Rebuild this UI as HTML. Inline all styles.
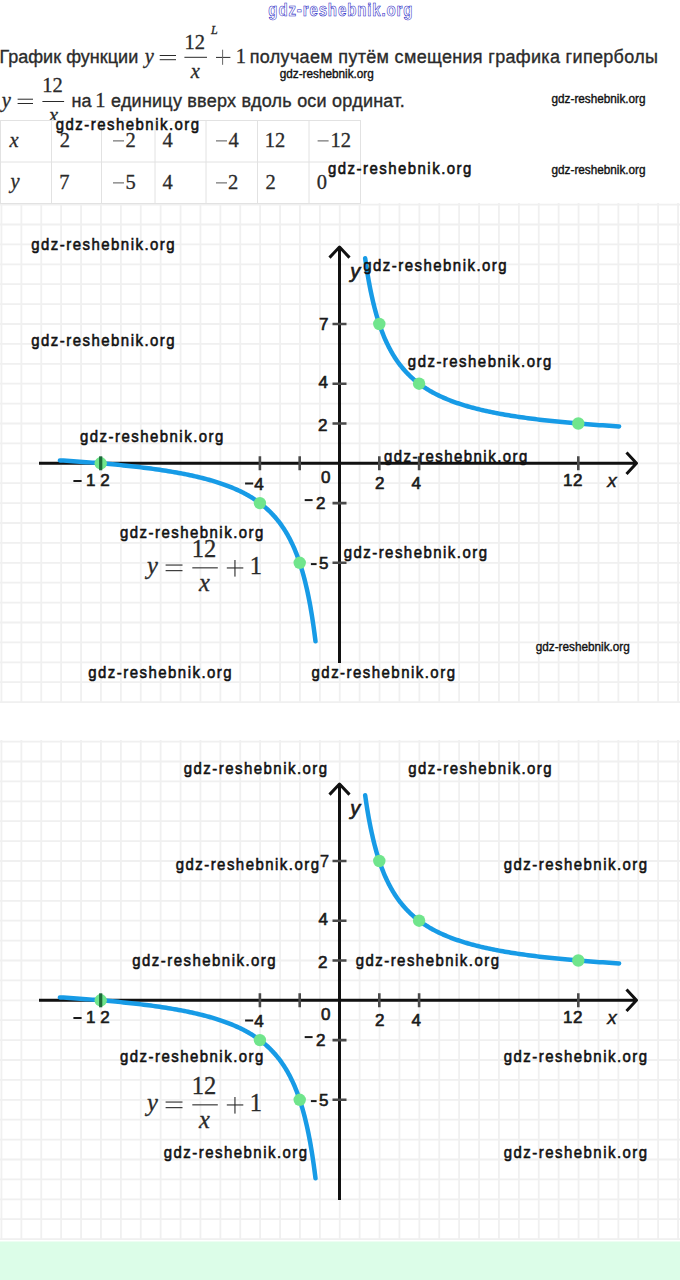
<!DOCTYPE html>
<html><head><meta charset="utf-8">
<style>
html,body{margin:0;padding:0;background:#fff;}
body{width:680px;height:1280px;overflow:hidden;}
svg{display:block;}
.fs{font-family:"Liberation Sans",sans-serif;}
.fsb{font-family:"Liberation Sans",sans-serif;font-weight:bold;}
.fsi{font-family:"Liberation Sans",sans-serif;font-style:italic;}
.fsbi{font-family:"Liberation Sans",sans-serif;font-weight:bold;font-style:italic;}
.fr{font-family:"Liberation Serif",serif;stroke:#2a2a2a;stroke-width:0.3px;}
.fri{font-family:"Liberation Serif",serif;font-style:italic;stroke:#2a2a2a;stroke-width:0.3px;}
</style></head><body>
<svg width="680" height="1280" viewBox="0 0 680 1280">
<rect x="0" y="0" width="680" height="1280" fill="#fff"/>
<path d="M1.45 203V703M21.35 203V703M41.25 203V703M61.15 203V703M81.05 203V703M100.95 203V703M120.85 203V703M140.75 203V703M160.65 203V703M180.55 203V703M200.45 203V703M220.35 203V703M240.25 203V703M260.15 203V703M280.05 203V703M299.95 203V703M319.85 203V703M339.75 203V703M359.65 203V703M379.55 203V703M399.45 203V703M419.35 203V703M439.25 203V703M459.15 203V703M479.05 203V703M498.95 203V703M518.85 203V703M538.75 203V703M558.65 203V703M578.55 203V703M598.45 203V703M618.35 203V703M638.25 203V703M658.15 203V703M678.05 203V703M0 204.60H680M0 224.50H680M0 244.40H680M0 264.30H680M0 284.20H680M0 304.10H680M0 324.00H680M0 343.90H680M0 363.80H680M0 383.70H680M0 403.60H680M0 423.50H680M0 443.40H680M0 463.30H680M0 483.20H680M0 503.10H680M0 523.00H680M0 542.90H680M0 562.80H680M0 582.70H680M0 602.60H680M0 622.50H680M0 642.40H680M0 662.30H680M0 682.20H680M0 702.10H680" stroke="#f0f0f0" stroke-width="1.8" fill="none"/>
<path d="M39 463.3H636.5M626.5 452.6L636.5 463.3L626.5 474.0" stroke="#111" stroke-width="3" fill="none" stroke-linejoin="round"/>
<path d="M339.5 663V247M329.5 257.6L339.5 247L349.5 257.6" stroke="#111" stroke-width="3" fill="none" stroke-linejoin="round"/>
<path d="M259.90 456.3V470.3M299.70 456.3V470.3M379.30 456.3V470.3M419.10 456.3V470.3M578.30 456.3V470.3M332.5 324.00H346.5M332.5 383.70H346.5M332.5 423.50H346.5M332.5 503.10H346.5M332.5 562.80H346.5" stroke="#4a4a4a" stroke-width="2.6" fill="none"/>
<path d="M365.17 258.28L365.48 260.48L365.79 262.65L366.11 264.80L366.43 266.92L366.75 269.01L367.08 271.08L367.41 273.13L367.74 275.15L368.08 277.14L368.43 279.12L368.77 281.07L369.13 282.99L369.48 284.90L369.84 286.78L370.21 288.64L370.57 290.48L370.95 292.29L371.33 294.08L371.71 295.86L372.10 297.61L372.49 299.34L372.88 301.05L373.28 302.74L373.69 304.41L374.10 306.06L374.52 307.69L374.94 309.30L375.36 310.89L375.79 312.46L376.23 314.02L376.67 315.55L377.12 317.07L377.57 318.57L378.03 320.05L378.49 321.51L378.96 322.96L379.43 324.39L379.91 325.80L380.40 327.20L380.89 328.58L381.38 329.94L381.89 331.29L382.40 332.62L382.91 333.93L383.43 335.23L383.96 336.52L384.49 337.78L385.03 339.04L385.58 340.28L386.14 341.50L386.70 342.71L387.26 343.90L387.84 345.09L388.42 346.25L389.00 347.41L389.60 348.54L390.20 349.67L390.81 350.78L391.43 351.88L392.05 352.97L392.68 354.04L393.32 355.10L393.97 356.15L394.62 357.19L395.28 358.21L395.95 359.22L396.63 360.22L397.32 361.21L398.01 362.18L398.71 363.15L399.43 364.10L400.14 365.04L400.87 365.97L401.61 366.89L402.36 367.80L403.11 368.69L403.88 369.58L404.65 370.46L405.43 371.32L406.22 372.18L407.02 373.02L407.84 373.86L408.66 374.68L409.49 375.50L410.33 376.31L411.18 377.10L412.04 377.89L412.91 378.67L413.79 379.44L414.69 380.19L415.59 380.94L416.50 381.69L417.43 382.42L418.36 383.14L419.31 383.86L420.27 384.56L421.24 385.26L422.22 385.95L423.21 386.63L424.22 387.31L425.24 387.97L426.27 388.63L427.31 389.28L428.36 389.92L429.43 390.56L430.51 391.19L431.61 391.81L432.71 392.42L433.83 393.02L434.96 393.62L436.11 394.21L437.27 394.80L438.45 395.37L439.63 395.94L440.84 396.51L442.05 397.06L443.29 397.61L444.53 398.16L445.79 398.69L447.07 399.22L448.36 399.75L449.67 400.27L450.99 400.78L452.33 401.28L453.69 401.78L455.06 402.28L456.45 402.77L457.85 403.25L459.27 403.72L460.71 404.20L462.17 404.66L463.64 405.12L465.13 405.57L466.64 406.02L468.17 406.47L469.72 406.91L471.28 407.34L472.86 407.77L474.46 408.19L476.09 408.61L477.73 409.02L479.39 409.43L481.07 409.83L482.77 410.23L484.49 410.62L486.23 411.01L487.99 411.40L489.78 411.78L491.58 412.15L493.41 412.52L495.26 412.89L497.13 413.25L499.02 413.61L500.94 413.96L502.87 414.31L504.84 414.66L506.82 415.00L508.83 415.34L510.87 415.67L512.93 416.00L515.01 416.32L517.12 416.65L519.25 416.96L521.41 417.28L523.59 417.59L525.81 417.89L528.04 418.20L530.31 418.49L532.60 418.79L534.92 419.08L537.27 419.37L539.64 419.66L542.05 419.94L544.48 420.22L546.94 420.49L549.43 420.76L551.95 421.03L554.51 421.30L557.09 421.56L559.70 421.82L562.35 422.08L565.02 422.33L567.73 422.58L570.47 422.83L573.25 423.07L576.06 423.31L578.90 423.55L581.77 423.79L584.68 424.02L587.63 424.25L590.61 424.48L593.62 424.70L596.68 424.92L599.77 425.14L602.89 425.36L606.06 425.57L609.26 425.78L612.50 425.99L615.78 426.20L619.10 426.40M59.90 460.40L63.32 460.61L66.68 460.82L70.01 461.03L73.30 461.25L76.55 461.47L79.75 461.70L82.92 461.92L86.05 462.15L89.14 462.38L92.20 462.62L95.21 462.85L98.19 463.09L101.14 463.34L104.04 463.58L106.91 463.83L109.75 464.08L112.55 464.34L115.32 464.60L118.06 464.86L120.76 465.12L123.43 465.39L126.06 465.66L128.66 465.94L131.24 466.22L133.78 466.50L136.29 466.78L138.76 467.07L141.21 467.37L143.63 467.66L146.02 467.96L148.38 468.26L150.71 468.57L153.01 468.88L155.29 469.20L157.54 469.52L159.76 469.84L161.95 470.16L164.11 470.50L166.25 470.83L168.37 471.17L170.45 471.51L172.52 471.86L174.55 472.21L176.56 472.57L178.55 472.93L180.51 473.29L182.45 473.66L184.37 474.03L186.26 474.41L188.13 474.79L189.98 475.18L191.80 475.57L193.60 475.97L195.38 476.37L197.14 476.78L198.88 477.19L200.59 477.61L202.29 478.03L203.96 478.46L205.61 478.89L207.25 479.33L208.86 479.78L210.45 480.22L212.03 480.68L213.58 481.14L215.12 481.61L216.63 482.08L218.13 482.56L219.61 483.04L221.08 483.53L222.52 484.02L223.95 484.53L225.36 485.03L226.75 485.55L228.12 486.07L229.48 486.59L230.82 487.13L232.15 487.67L233.46 488.21L234.75 488.77L236.03 489.33L237.29 489.89L238.54 490.47L239.77 491.05L240.99 491.64L242.19 492.23L243.38 492.84L244.55 493.45L245.71 494.07L246.85 494.69L247.98 495.32L249.10 495.97L250.20 496.61L251.29 497.27L252.36 497.94L253.43 498.61L254.48 499.29L255.51 499.98L256.54 500.68L257.55 501.39L258.55 502.10L259.54 502.83L260.51 503.56L261.48 504.31L262.43 505.06L263.37 505.82L264.30 506.59L265.21 507.37L266.12 508.16L267.02 508.96L267.90 509.77L268.77 510.59L269.64 511.42L270.49 512.26L271.33 513.11L272.16 513.97L272.98 514.84L273.79 515.72L274.60 516.62L275.39 517.52L276.17 518.44L276.94 519.36L277.70 520.30L278.46 521.25L279.20 522.21L279.94 523.18L280.66 524.17L281.38 525.17L282.09 526.18L282.79 527.20L283.48 528.23L284.17 529.28L284.84 530.34L285.51 531.42L286.17 532.50L286.82 533.60L287.46 534.72L288.09 535.84L288.72 536.99L289.34 538.14L289.95 539.31L290.56 540.49L291.15 541.69L291.74 542.91L292.33 544.14L292.90 545.38L293.47 546.64L294.03 547.91L294.59 549.20L295.13 550.51L295.67 551.83L296.21 553.17L296.74 554.53L297.26 555.90L297.77 557.29L298.28 558.70L298.79 560.12L299.28 561.56L299.77 563.02L300.26 564.50L300.74 565.99L301.21 567.51L301.68 569.04L302.14 570.59L302.59 572.16L303.04 573.75L303.49 575.36L303.93 576.99L304.36 578.64L304.79 580.31L305.21 582.00L305.63 583.71L306.04 585.44L306.45 587.20L306.86 588.97L307.25 590.77L307.65 592.59L308.04 594.43L308.42 596.30L308.80 598.19L309.17 600.10L309.54 602.03L309.91 603.99L310.27 605.97L310.63 607.98L310.98 610.01L311.33 612.07L311.67 614.15L312.01 616.26L312.34 618.40L312.68 620.56L313.00 622.74L313.33 624.96L313.65 627.20L313.96 629.47L314.27 631.77L314.58 634.09L314.88 636.45L315.18 638.83L315.48 641.25" stroke="#179be6" stroke-width="4.5" fill="none" stroke-linecap="round"/>
<circle cx="379.30" cy="324.00" r="6.2" fill="#70e58c"/>
<circle cx="419.10" cy="383.70" r="6.2" fill="#70e58c"/>
<circle cx="578.30" cy="423.50" r="6.2" fill="#70e58c"/>
<circle cx="299.70" cy="562.80" r="6.2" fill="#70e58c"/>
<circle cx="259.90" cy="503.10" r="6.2" fill="#70e58c"/>
<circle cx="100.70" cy="463.30" r="6.2" fill="#70e58c"/>
<path d="M100.70 456.3V470.3" stroke="#1d6a3a" stroke-width="3.2"/>
<text class="fs" x="319.02" y="329.70" font-size="17" fill="#1a1a1a" stroke="#1a1a1a" stroke-width="0.65">7</text>
<text class="fs" x="318.62" y="388.20" font-size="17" fill="#1a1a1a" stroke="#1a1a1a" stroke-width="0.65">4</text>
<text class="fs" x="318.12" y="430.90" font-size="17" fill="#1a1a1a" stroke="#1a1a1a" stroke-width="0.65">2</text>
<rect x="304.70" y="499.10" width="7.90" height="2.00" fill="#1a1a1a"/>
<text class="fs" x="316.12" y="509.00" font-size="17" fill="#1a1a1a" stroke="#1a1a1a" stroke-width="0.65">2</text>
<rect x="310.90" y="563.10" width="5.70" height="2.00" fill="#1a1a1a"/>
<text class="fs" x="318.95" y="568.50" font-size="17" fill="#1a1a1a" stroke="#1a1a1a" stroke-width="0.65">5</text>
<text class="fs" x="320.98" y="483.20" font-size="17" fill="#1a1a1a" stroke="#1a1a1a" stroke-width="0.65">0</text>
<rect x="73.40" y="480.00" width="8.20" height="2.00" fill="#1a1a1a"/>
<text class="fs" x="86.05" y="486.20" font-size="17" fill="#1a1a1a" stroke="#1a1a1a" stroke-width="0.65">1</text>
<text class="fs" x="100.33" y="486.20" font-size="17" fill="#1a1a1a" stroke="#1a1a1a" stroke-width="0.65">2</text>
<rect x="245.10" y="482.50" width="8.10" height="2.00" fill="#1a1a1a"/>
<text class="fs" x="254.32" y="489.90" font-size="17" fill="#1a1a1a" stroke="#1a1a1a" stroke-width="0.65">4</text>
<text class="fs" x="374.93" y="488.80" font-size="17" fill="#1a1a1a" stroke="#1a1a1a" stroke-width="0.65">2</text>
<text class="fs" x="411.43" y="488.80" font-size="17" fill="#1a1a1a" stroke="#1a1a1a" stroke-width="0.65">4</text>
<text class="fs" x="562.95" y="486.00" font-size="17" fill="#1a1a1a" stroke="#1a1a1a" stroke-width="0.65">1</text>
<text class="fs" x="573.12" y="486.00" font-size="17" fill="#1a1a1a" stroke="#1a1a1a" stroke-width="0.65">2</text>
<text class="fsi" x="607.35" y="487.40" font-size="19" fill="#1a1a1a" stroke="#1a1a1a" stroke-width="0.4">x</text>
<text class="fsi" x="350.23" y="277.50" font-size="20" fill="#1a1a1a" stroke="#1a1a1a" stroke-width="0.7">y</text>
<text class="fri" x="147.00" y="573.60" font-size="24.5" fill="#2a2a2a">y</text>
<rect x="165.60" y="564.50" width="16.90" height="1.10" fill="#2a2a2a"/>
<rect x="165.60" y="570.10" width="16.90" height="1.10" fill="#2a2a2a"/>
<rect x="192.30" y="567.30" width="25.50" height="1.10" fill="#2a2a2a"/>
<text class="fr" x="191.68" y="557.30" font-size="24.5" fill="#2a2a2a">12</text>
<text class="fri" x="199.05" y="591.30" font-size="24.5" fill="#2a2a2a">x</text>
<rect x="226.80" y="567.40" width="16.50" height="1.10" fill="#2a2a2a"/>
<rect x="234.40" y="560.00" width="1.10" height="16.60" fill="#2a2a2a"/>
<text class="fr" x="249.68" y="573.70" font-size="24.5" fill="#2a2a2a">1</text>
<path d="M1.45 740V1240M21.35 740V1240M41.25 740V1240M61.15 740V1240M81.05 740V1240M100.95 740V1240M120.85 740V1240M140.75 740V1240M160.65 740V1240M180.55 740V1240M200.45 740V1240M220.35 740V1240M240.25 740V1240M260.15 740V1240M280.05 740V1240M299.95 740V1240M319.85 740V1240M339.75 740V1240M359.65 740V1240M379.55 740V1240M399.45 740V1240M419.35 740V1240M439.25 740V1240M459.15 740V1240M479.05 740V1240M498.95 740V1240M518.85 740V1240M538.75 740V1240M558.65 740V1240M578.55 740V1240M598.45 740V1240M618.35 740V1240M638.25 740V1240M658.15 740V1240M678.05 740V1240M0 741.60H680M0 761.50H680M0 781.40H680M0 801.30H680M0 821.20H680M0 841.10H680M0 861.00H680M0 880.90H680M0 900.80H680M0 920.70H680M0 940.60H680M0 960.50H680M0 980.40H680M0 1000.30H680M0 1020.20H680M0 1040.10H680M0 1060.00H680M0 1079.90H680M0 1099.80H680M0 1119.70H680M0 1139.60H680M0 1159.50H680M0 1179.40H680M0 1199.30H680M0 1219.20H680M0 1239.10H680" stroke="#f0f0f0" stroke-width="1.8" fill="none"/>
<path d="M39 1000.3H636.5M626.5 989.5999999999999L636.5 1000.3L626.5 1011.0" stroke="#111" stroke-width="3" fill="none" stroke-linejoin="round"/>
<path d="M339.5 1200V784M329.5 794.6L339.5 784L349.5 794.6" stroke="#111" stroke-width="3" fill="none" stroke-linejoin="round"/>
<path d="M259.90 993.3V1007.3M299.70 993.3V1007.3M379.30 993.3V1007.3M419.10 993.3V1007.3M578.30 993.3V1007.3M332.5 861.00H346.5M332.5 920.70H346.5M332.5 960.50H346.5M332.5 1040.10H346.5M332.5 1099.80H346.5" stroke="#4a4a4a" stroke-width="2.6" fill="none"/>
<path d="M365.17 795.28L365.48 797.48L365.79 799.65L366.11 801.80L366.43 803.92L366.75 806.01L367.08 808.08L367.41 810.13L367.74 812.15L368.08 814.14L368.43 816.12L368.77 818.07L369.13 819.99L369.48 821.90L369.84 823.78L370.21 825.64L370.57 827.48L370.95 829.29L371.33 831.08L371.71 832.86L372.10 834.61L372.49 836.34L372.88 838.05L373.28 839.74L373.69 841.41L374.10 843.06L374.52 844.69L374.94 846.30L375.36 847.89L375.79 849.46L376.23 851.02L376.67 852.55L377.12 854.07L377.57 855.57L378.03 857.05L378.49 858.51L378.96 859.96L379.43 861.39L379.91 862.80L380.40 864.20L380.89 865.58L381.38 866.94L381.89 868.29L382.40 869.62L382.91 870.93L383.43 872.23L383.96 873.52L384.49 874.78L385.03 876.04L385.58 877.28L386.14 878.50L386.70 879.71L387.26 880.90L387.84 882.09L388.42 883.25L389.00 884.41L389.60 885.54L390.20 886.67L390.81 887.78L391.43 888.88L392.05 889.97L392.68 891.04L393.32 892.10L393.97 893.15L394.62 894.19L395.28 895.21L395.95 896.22L396.63 897.22L397.32 898.21L398.01 899.18L398.71 900.15L399.43 901.10L400.14 902.04L400.87 902.97L401.61 903.89L402.36 904.80L403.11 905.69L403.88 906.58L404.65 907.46L405.43 908.32L406.22 909.18L407.02 910.02L407.84 910.86L408.66 911.68L409.49 912.50L410.33 913.31L411.18 914.10L412.04 914.89L412.91 915.67L413.79 916.44L414.69 917.19L415.59 917.94L416.50 918.69L417.43 919.42L418.36 920.14L419.31 920.86L420.27 921.56L421.24 922.26L422.22 922.95L423.21 923.63L424.22 924.31L425.24 924.97L426.27 925.63L427.31 926.28L428.36 926.92L429.43 927.56L430.51 928.19L431.61 928.81L432.71 929.42L433.83 930.02L434.96 930.62L436.11 931.21L437.27 931.80L438.45 932.37L439.63 932.94L440.84 933.51L442.05 934.06L443.29 934.61L444.53 935.16L445.79 935.69L447.07 936.22L448.36 936.75L449.67 937.27L450.99 937.78L452.33 938.28L453.69 938.78L455.06 939.28L456.45 939.77L457.85 940.25L459.27 940.72L460.71 941.20L462.17 941.66L463.64 942.12L465.13 942.57L466.64 943.02L468.17 943.47L469.72 943.91L471.28 944.34L472.86 944.77L474.46 945.19L476.09 945.61L477.73 946.02L479.39 946.43L481.07 946.83L482.77 947.23L484.49 947.62L486.23 948.01L487.99 948.40L489.78 948.78L491.58 949.15L493.41 949.52L495.26 949.89L497.13 950.25L499.02 950.61L500.94 950.96L502.87 951.31L504.84 951.66L506.82 952.00L508.83 952.34L510.87 952.67L512.93 953.00L515.01 953.32L517.12 953.65L519.25 953.96L521.41 954.28L523.59 954.59L525.81 954.89L528.04 955.20L530.31 955.49L532.60 955.79L534.92 956.08L537.27 956.37L539.64 956.66L542.05 956.94L544.48 957.22L546.94 957.49L549.43 957.76L551.95 958.03L554.51 958.30L557.09 958.56L559.70 958.82L562.35 959.08L565.02 959.33L567.73 959.58L570.47 959.83L573.25 960.07L576.06 960.31L578.90 960.55L581.77 960.79L584.68 961.02L587.63 961.25L590.61 961.48L593.62 961.70L596.68 961.92L599.77 962.14L602.89 962.36L606.06 962.57L609.26 962.78L612.50 962.99L615.78 963.20L619.10 963.40M59.90 997.40L63.32 997.61L66.68 997.82L70.01 998.03L73.30 998.25L76.55 998.47L79.75 998.70L82.92 998.92L86.05 999.15L89.14 999.38L92.20 999.62L95.21 999.85L98.19 1000.09L101.14 1000.34L104.04 1000.58L106.91 1000.83L109.75 1001.08L112.55 1001.34L115.32 1001.60L118.06 1001.86L120.76 1002.12L123.43 1002.39L126.06 1002.66L128.66 1002.94L131.24 1003.22L133.78 1003.50L136.29 1003.78L138.76 1004.07L141.21 1004.37L143.63 1004.66L146.02 1004.96L148.38 1005.26L150.71 1005.57L153.01 1005.88L155.29 1006.20L157.54 1006.52L159.76 1006.84L161.95 1007.16L164.11 1007.50L166.25 1007.83L168.37 1008.17L170.45 1008.51L172.52 1008.86L174.55 1009.21L176.56 1009.57L178.55 1009.93L180.51 1010.29L182.45 1010.66L184.37 1011.03L186.26 1011.41L188.13 1011.79L189.98 1012.18L191.80 1012.57L193.60 1012.97L195.38 1013.37L197.14 1013.78L198.88 1014.19L200.59 1014.61L202.29 1015.03L203.96 1015.46L205.61 1015.89L207.25 1016.33L208.86 1016.78L210.45 1017.22L212.03 1017.68L213.58 1018.14L215.12 1018.61L216.63 1019.08L218.13 1019.56L219.61 1020.04L221.08 1020.53L222.52 1021.02L223.95 1021.53L225.36 1022.03L226.75 1022.55L228.12 1023.07L229.48 1023.59L230.82 1024.13L232.15 1024.67L233.46 1025.21L234.75 1025.77L236.03 1026.33L237.29 1026.89L238.54 1027.47L239.77 1028.05L240.99 1028.64L242.19 1029.23L243.38 1029.84L244.55 1030.45L245.71 1031.07L246.85 1031.69L247.98 1032.32L249.10 1032.97L250.20 1033.61L251.29 1034.27L252.36 1034.94L253.43 1035.61L254.48 1036.29L255.51 1036.98L256.54 1037.68L257.55 1038.39L258.55 1039.10L259.54 1039.83L260.51 1040.56L261.48 1041.31L262.43 1042.06L263.37 1042.82L264.30 1043.59L265.21 1044.37L266.12 1045.16L267.02 1045.96L267.90 1046.77L268.77 1047.59L269.64 1048.42L270.49 1049.26L271.33 1050.11L272.16 1050.97L272.98 1051.84L273.79 1052.72L274.60 1053.62L275.39 1054.52L276.17 1055.44L276.94 1056.36L277.70 1057.30L278.46 1058.25L279.20 1059.21L279.94 1060.18L280.66 1061.17L281.38 1062.17L282.09 1063.18L282.79 1064.20L283.48 1065.23L284.17 1066.28L284.84 1067.34L285.51 1068.42L286.17 1069.50L286.82 1070.60L287.46 1071.72L288.09 1072.84L288.72 1073.99L289.34 1075.14L289.95 1076.31L290.56 1077.49L291.15 1078.69L291.74 1079.91L292.33 1081.14L292.90 1082.38L293.47 1083.64L294.03 1084.91L294.59 1086.20L295.13 1087.51L295.67 1088.83L296.21 1090.17L296.74 1091.53L297.26 1092.90L297.77 1094.29L298.28 1095.70L298.79 1097.12L299.28 1098.56L299.77 1100.02L300.26 1101.50L300.74 1102.99L301.21 1104.51L301.68 1106.04L302.14 1107.59L302.59 1109.16L303.04 1110.75L303.49 1112.36L303.93 1113.99L304.36 1115.64L304.79 1117.31L305.21 1119.00L305.63 1120.71L306.04 1122.44L306.45 1124.20L306.86 1125.97L307.25 1127.77L307.65 1129.59L308.04 1131.43L308.42 1133.30L308.80 1135.19L309.17 1137.10L309.54 1139.03L309.91 1140.99L310.27 1142.97L310.63 1144.98L310.98 1147.01L311.33 1149.07L311.67 1151.15L312.01 1153.26L312.34 1155.40L312.68 1157.56L313.00 1159.74L313.33 1161.96L313.65 1164.20L313.96 1166.47L314.27 1168.77L314.58 1171.09L314.88 1173.45L315.18 1175.83L315.48 1178.25" stroke="#179be6" stroke-width="4.5" fill="none" stroke-linecap="round"/>
<circle cx="379.30" cy="861.00" r="6.2" fill="#70e58c"/>
<circle cx="419.10" cy="920.70" r="6.2" fill="#70e58c"/>
<circle cx="578.30" cy="960.50" r="6.2" fill="#70e58c"/>
<circle cx="299.70" cy="1099.80" r="6.2" fill="#70e58c"/>
<circle cx="259.90" cy="1040.10" r="6.2" fill="#70e58c"/>
<circle cx="100.70" cy="1000.30" r="6.2" fill="#70e58c"/>
<path d="M100.70 993.3V1007.3" stroke="#1d6a3a" stroke-width="3.2"/>
<text class="fs" x="319.73" y="866.50" font-size="17" fill="#1a1a1a" stroke="#1e1e1e" stroke-width="0.3">7</text>
<text class="fs" x="318.62" y="925.20" font-size="17" fill="#1a1a1a" stroke="#1a1a1a" stroke-width="0.65">4</text>
<text class="fs" x="318.12" y="967.90" font-size="17" fill="#1a1a1a" stroke="#1a1a1a" stroke-width="0.65">2</text>
<rect x="304.70" y="1036.10" width="7.90" height="2.00" fill="#1a1a1a"/>
<text class="fs" x="316.12" y="1046.00" font-size="17" fill="#1a1a1a" stroke="#1a1a1a" stroke-width="0.65">2</text>
<rect x="310.90" y="1100.10" width="5.70" height="2.00" fill="#1a1a1a"/>
<text class="fs" x="318.95" y="1105.50" font-size="17" fill="#1a1a1a" stroke="#1a1a1a" stroke-width="0.65">5</text>
<text class="fs" x="320.98" y="1020.20" font-size="17" fill="#1a1a1a" stroke="#1a1a1a" stroke-width="0.65">0</text>
<rect x="73.40" y="1017.00" width="8.20" height="2.00" fill="#1a1a1a"/>
<text class="fs" x="86.05" y="1023.20" font-size="17" fill="#1a1a1a" stroke="#1a1a1a" stroke-width="0.65">1</text>
<text class="fs" x="100.33" y="1023.20" font-size="17" fill="#1a1a1a" stroke="#1a1a1a" stroke-width="0.65">2</text>
<rect x="245.10" y="1019.50" width="8.10" height="2.00" fill="#1a1a1a"/>
<text class="fs" x="254.32" y="1026.90" font-size="17" fill="#1a1a1a" stroke="#1a1a1a" stroke-width="0.65">4</text>
<text class="fs" x="374.93" y="1025.80" font-size="17" fill="#1a1a1a" stroke="#1a1a1a" stroke-width="0.65">2</text>
<text class="fs" x="411.43" y="1025.80" font-size="17" fill="#1a1a1a" stroke="#1a1a1a" stroke-width="0.65">4</text>
<text class="fs" x="562.95" y="1023.00" font-size="17" fill="#1a1a1a" stroke="#1a1a1a" stroke-width="0.65">1</text>
<text class="fs" x="573.12" y="1023.00" font-size="17" fill="#1a1a1a" stroke="#1a1a1a" stroke-width="0.65">2</text>
<text class="fsi" x="607.35" y="1024.40" font-size="19" fill="#1a1a1a" stroke="#1a1a1a" stroke-width="0.4">x</text>
<text class="fsi" x="350.23" y="814.50" font-size="20" fill="#1a1a1a" stroke="#1a1a1a" stroke-width="0.7">y</text>
<text class="fri" x="147.00" y="1110.60" font-size="24.5" fill="#2a2a2a">y</text>
<rect x="165.60" y="1101.50" width="16.90" height="1.10" fill="#2a2a2a"/>
<rect x="165.60" y="1107.10" width="16.90" height="1.10" fill="#2a2a2a"/>
<rect x="192.30" y="1104.30" width="25.50" height="1.10" fill="#2a2a2a"/>
<text class="fr" x="191.68" y="1094.30" font-size="24.5" fill="#2a2a2a">12</text>
<text class="fri" x="199.05" y="1128.30" font-size="24.5" fill="#2a2a2a">x</text>
<rect x="226.80" y="1104.40" width="16.50" height="1.10" fill="#2a2a2a"/>
<rect x="234.40" y="1097.00" width="1.10" height="16.60" fill="#2a2a2a"/>
<text class="fr" x="249.68" y="1110.70" font-size="24.5" fill="#2a2a2a">1</text>
<text class="fs" x="-0.60" y="62.60" font-size="18" fill="#2b2b2b" textLength="138.82" lengthAdjust="spacing" stroke="#2b2b2b" stroke-width="0.35">График функции</text>
<text class="fs" x="249.75" y="62.60" font-size="18" fill="#2b2b2b" textLength="408.21" lengthAdjust="spacing" stroke="#2b2b2b" stroke-width="0.35">получаем путём смещения графика гиперболы</text>
<text class="fs" x="71.45" y="106.80" font-size="18" fill="#2b2b2b" stroke="#2b2b2b" stroke-width="0.35">на</text>
<text class="fs" x="111.05" y="106.80" font-size="18" fill="#2b2b2b" textLength="293.60" lengthAdjust="spacing" stroke="#2b2b2b" stroke-width="0.35">единицу вверх вдоль оси ординат.</text>
<text class="fri" x="144.75" y="62.60" font-size="20.5" fill="#2a2a2a">y</text>
<rect x="159.70" y="55.00" width="16.30" height="1.00" fill="#2a2a2a"/>
<rect x="159.70" y="59.20" width="16.30" height="1.00" fill="#2a2a2a"/>
<rect x="184.40" y="56.80" width="22.60" height="1.00" fill="#2a2a2a"/>
<text class="fr" x="184.45" y="48.80" font-size="20.5" fill="#2a2a2a">12</text>
<text class="fri" x="190.85" y="78.00" font-size="20.5" fill="#2a2a2a">x</text>
<rect x="216.00" y="56.90" width="14.40" height="1.00" fill="#2a2a2a"/>
<rect x="222.10" y="49.70" width="1.00" height="15.10" fill="#666"/>
<text class="fr" x="235.65" y="62.80" font-size="20.5" fill="#2a2a2a">1</text>
<text class="fri" x="211.12" y="33.80" font-size="12" fill="#222" stroke="#222" stroke-width="0.5">L</text>
<text class="fri" x="1.75" y="106.80" font-size="20.5" fill="#2a2a2a">y</text>
<rect x="17.60" y="98.70" width="15.40" height="1.00" fill="#2a2a2a"/>
<rect x="17.60" y="103.00" width="15.40" height="1.00" fill="#2a2a2a"/>
<rect x="42.40" y="101.00" width="21.70" height="1.00" fill="#2a2a2a"/>
<text class="fr" x="42.35" y="91.80" font-size="20.5" fill="#2a2a2a">12</text>
<text class="fri" x="49.05" y="122.00" font-size="20.5" fill="#2a2a2a">x</text>
<text class="fr" x="95.25" y="106.80" font-size="20.5" fill="#2a2a2a">1</text>
<rect x="0.00" y="120.50" width="360.50" height="83.00" fill="#fff"/>
<path d="M0.5 120.5V203.5M51.5 120.5V203.5M101.5 120.5V203.5M155.0 120.5V203.5M206.0 120.5V203.5M257.5 120.5V203.5M309.0 120.5V203.5M360.5 120.5V203.5M0 120.5H361.0M0 162.0H361.0M0 203.5H361.0" stroke="#e2e2e2" stroke-width="1" fill="none"/>
<text class="fri" x="9.55" y="147.00" font-size="20.5" fill="#2a2a2a" stroke-width="0.1">x</text>
<text class="fr" x="59.73" y="147.00" font-size="20.5" fill="#2a2a2a" stroke-width="0.1">2</text>
<rect x="113.00" y="140.40" width="11.00" height="1.00" fill="#555"/>
<text class="fr" x="125.62" y="147.00" font-size="20.5" fill="#2a2a2a" stroke-width="0.1">2</text>
<text class="fr" x="162.62" y="147.00" font-size="20.5" fill="#2a2a2a" stroke-width="0.1">4</text>
<rect x="216.00" y="140.40" width="11.00" height="1.00" fill="#555"/>
<text class="fr" x="228.62" y="147.00" font-size="20.5" fill="#2a2a2a" stroke-width="0.1">4</text>
<text class="fr" x="264.65" y="147.00" font-size="20.5" fill="#2a2a2a" stroke-width="0.1">12</text>
<rect x="317.60" y="140.40" width="11.00" height="1.00" fill="#555"/>
<text class="fr" x="330.45" y="147.00" font-size="20.5" fill="#2a2a2a" stroke-width="0.1">12</text>
<text class="fri" x="10.55" y="188.00" font-size="20.5" fill="#2a2a2a" stroke-width="0.1">y</text>
<text class="fr" x="59.23" y="189.00" font-size="20.5" fill="#2a2a2a" stroke-width="0.1">7</text>
<rect x="113.00" y="182.40" width="11.00" height="1.00" fill="#555"/>
<text class="fr" x="125.38" y="189.00" font-size="20.5" fill="#2a2a2a" stroke-width="0.1">5</text>
<text class="fr" x="162.62" y="189.00" font-size="20.5" fill="#2a2a2a" stroke-width="0.1">4</text>
<rect x="216.00" y="182.40" width="11.00" height="1.00" fill="#555"/>
<text class="fr" x="228.12" y="189.00" font-size="20.5" fill="#2a2a2a" stroke-width="0.1">2</text>
<text class="fr" x="265.52" y="189.00" font-size="20.5" fill="#2a2a2a" stroke-width="0.1">2</text>
<text class="fr" x="316.85" y="189.00" font-size="20.5" fill="#2a2a2a" stroke-width="0.1">0</text>
<text class="fs" transform="translate(55.74 129.80) scale(0.8800 1)" x="0" y="0" font-size="17" fill="#111" textLength="162.97" lengthAdjust="spacing" stroke="#111" stroke-width="0.6">gdz-reshebnik.org</text>
<text class="fs" transform="translate(327.94 173.50) scale(0.8800 1)" x="0" y="0" font-size="17" fill="#111" textLength="162.97" lengthAdjust="spacing" stroke="#111" stroke-width="0.6">gdz-reshebnik.org</text>
<text class="fs" transform="translate(31.24 249.50) scale(0.8800 1)" x="0" y="0" font-size="17" fill="#111" textLength="162.97" lengthAdjust="spacing" stroke="#111" stroke-width="0.6">gdz-reshebnik.org</text>
<text class="fs" transform="translate(363.24 270.50) scale(0.8800 1)" x="0" y="0" font-size="17" fill="#111" textLength="162.97" lengthAdjust="spacing" stroke="#111" stroke-width="0.6">gdz-reshebnik.org</text>
<text class="fs" transform="translate(31.24 345.50) scale(0.8800 1)" x="0" y="0" font-size="17" fill="#111" textLength="162.97" lengthAdjust="spacing" stroke="#111" stroke-width="0.6">gdz-reshebnik.org</text>
<text class="fs" transform="translate(407.84 366.50) scale(0.8800 1)" x="0" y="0" font-size="17" fill="#111" textLength="162.97" lengthAdjust="spacing" stroke="#111" stroke-width="0.6">gdz-reshebnik.org</text>
<text class="fs" transform="translate(79.94 442.00) scale(0.8800 1)" x="0" y="0" font-size="17" fill="#111" textLength="162.97" lengthAdjust="spacing" stroke="#111" stroke-width="0.6">gdz-reshebnik.org</text>
<text class="fs" transform="translate(383.94 461.80) scale(0.8800 1)" x="0" y="0" font-size="17" fill="#111" textLength="162.97" lengthAdjust="spacing" stroke="#111" stroke-width="0.6">gdz-reshebnik.org</text>
<text class="fs" transform="translate(119.94 538.00) scale(0.8800 1)" x="0" y="0" font-size="17" fill="#111" textLength="162.97" lengthAdjust="spacing" stroke="#111" stroke-width="0.6">gdz-reshebnik.org</text>
<text class="fs" transform="translate(343.64 558.00) scale(0.8800 1)" x="0" y="0" font-size="17" fill="#111" textLength="162.97" lengthAdjust="spacing" stroke="#111" stroke-width="0.6">gdz-reshebnik.org</text>
<text class="fs" transform="translate(88.24 678.00) scale(0.8800 1)" x="0" y="0" font-size="17" fill="#111" textLength="162.97" lengthAdjust="spacing" stroke="#111" stroke-width="0.6">gdz-reshebnik.org</text>
<text class="fs" transform="translate(311.54 678.00) scale(0.8800 1)" x="0" y="0" font-size="17" fill="#111" textLength="162.97" lengthAdjust="spacing" stroke="#111" stroke-width="0.6">gdz-reshebnik.org</text>
<text class="fs" transform="translate(183.74 774.20) scale(0.8800 1)" x="0" y="0" font-size="17" fill="#111" textLength="162.97" lengthAdjust="spacing" stroke="#111" stroke-width="0.6">gdz-reshebnik.org</text>
<text class="fs" transform="translate(408.24 774.20) scale(0.8800 1)" x="0" y="0" font-size="17" fill="#111" textLength="162.97" lengthAdjust="spacing" stroke="#111" stroke-width="0.6">gdz-reshebnik.org</text>
<text class="fs" transform="translate(175.64 870.00) scale(0.8800 1)" x="0" y="0" font-size="17" fill="#111" textLength="162.97" lengthAdjust="spacing" stroke="#111" stroke-width="0.6">gdz-reshebnik.org</text>
<text class="fs" transform="translate(503.74 870.00) scale(0.8800 1)" x="0" y="0" font-size="17" fill="#111" textLength="162.97" lengthAdjust="spacing" stroke="#111" stroke-width="0.6">gdz-reshebnik.org</text>
<text class="fs" transform="translate(132.24 965.50) scale(0.8800 1)" x="0" y="0" font-size="17" fill="#111" textLength="162.97" lengthAdjust="spacing" stroke="#111" stroke-width="0.6">gdz-reshebnik.org</text>
<text class="fs" transform="translate(355.64 965.50) scale(0.8800 1)" x="0" y="0" font-size="17" fill="#111" textLength="162.97" lengthAdjust="spacing" stroke="#111" stroke-width="0.6">gdz-reshebnik.org</text>
<text class="fs" transform="translate(119.94 1061.70) scale(0.8800 1)" x="0" y="0" font-size="17" fill="#111" textLength="162.97" lengthAdjust="spacing" stroke="#111" stroke-width="0.6">gdz-reshebnik.org</text>
<text class="fs" transform="translate(503.74 1061.70) scale(0.8800 1)" x="0" y="0" font-size="17" fill="#111" textLength="162.97" lengthAdjust="spacing" stroke="#111" stroke-width="0.6">gdz-reshebnik.org</text>
<text class="fs" transform="translate(163.74 1157.80) scale(0.8800 1)" x="0" y="0" font-size="17" fill="#111" textLength="162.97" lengthAdjust="spacing" stroke="#111" stroke-width="0.6">gdz-reshebnik.org</text>
<text class="fs" transform="translate(503.74 1157.80) scale(0.8800 1)" x="0" y="0" font-size="17" fill="#111" textLength="162.97" lengthAdjust="spacing" stroke="#111" stroke-width="0.6">gdz-reshebnik.org</text>
<text class="fs" transform="translate(279.75 77.80) scale(0.9051 1)" font-size="13" fill="#111" stroke="#111" stroke-width="0.4">gdz-reshebnik.org</text>
<text class="fs" transform="translate(551.55 102.50) scale(0.9051 1)" font-size="13" fill="#111" stroke="#111" stroke-width="0.4">gdz-reshebnik.org</text>
<text class="fs" transform="translate(551.55 174.10) scale(0.9051 1)" font-size="13" fill="#111" stroke="#111" stroke-width="0.4">gdz-reshebnik.org</text>
<text class="fs" transform="translate(535.75 650.80) scale(0.9051 1)" font-size="13" fill="#111" stroke="#111" stroke-width="0.4">gdz-reshebnik.org</text>
<text class="fsb" transform="translate(268.36 15.90) scale(0.8600 1)" x="0" y="0" font-size="17.5" fill="#fff" textLength="167.63" lengthAdjust="spacing" stroke="#2626c4" stroke-width="0.6">gdz-reshebnik.org</text>
<rect x="0.00" y="1241.50" width="680.00" height="38.50" fill="#dcfde8"/>
</svg>
</body></html>
